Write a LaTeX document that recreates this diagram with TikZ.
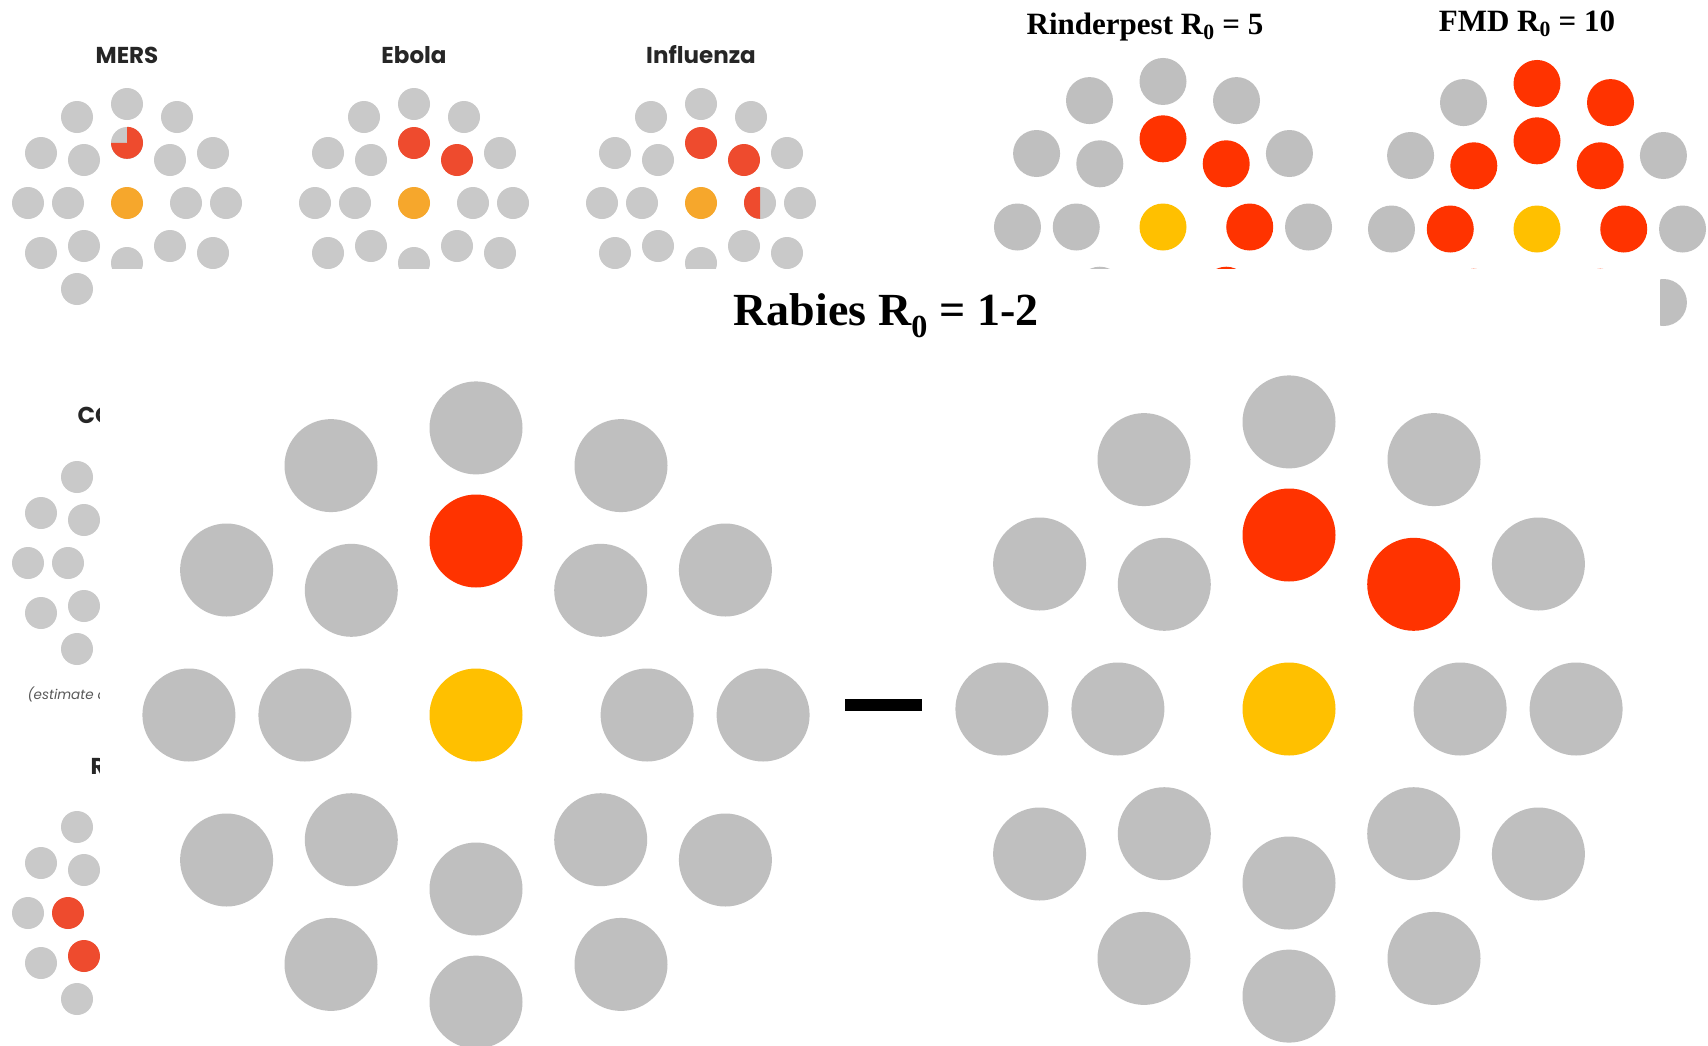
\documentclass[tikz,border=0pt]{standalone}
\usepackage{fontspec}
\usetikzlibrary{calc}
\newfontfamily\capfont{Poppins}
\newfontfamily\headfont{Liberation Serif}

\definecolor{sgray}{HTML}{C9C9C9}
\definecolor{sred}{HTML}{EE4B2E}
\definecolor{syellow}{HTML}{F6A72C}
\definecolor{bgray}{HTML}{BFBFBF}
\definecolor{bred}{HTML}{FF3300}
\definecolor{byellow}{HTML}{FFC000}

% dots round the index case, y up
\newcommand{\ringpos}{0/99, -50/86, 50/86, 0/60, -86/50, -43/43, 43/43, 86/50,
  -99/0, -59/0, 59/0, 99/0, -86/-50, -43/-43, 0/-60, 43/-43, 86/-50, -50/-86, 0/-99, 50/-86}

% #1 name, #2 centre, #3 scale, #4 dot size, #5 palette, #6 red dots
\newcommand{\ringpanel}[6]{%
  \foreach \dx/\dy [count=\i] in \ringpos {
    \xdef\dotcol{#5gray}
    \foreach \r in {#6} {\ifnum\r=\i\relax\xdef\dotcol{#5red}\fi}
    \node[dot, fill=\dotcol, minimum size=#4] (#1\i) at ($(#2)+(#3*\dx,#3*\dy)$) {};
  }
  \node[dot, fill=#5yellow, minimum size=#4] (#1c) at (#2) {};
}

\begin{document}
\begin{tikzpicture}[x=1pt, y=1pt,
		dot/.style={circle, inner sep=0pt},
		capt/.style={anchor=base, text=black!85, font=\capfont\bfseries\fontsize{23}{26}\selectfont},
		note/.style={anchor=base west, text=black!65, font=\capfont\itshape\fontsize{13.5}{15}\selectfont},
		headsmall/.style={anchor=base, font=\headfont\bfseries\fontsize{31}{34}\selectfont},
		headbig/.style={anchor=base, font=\headfont\bfseries\fontsize{46}{50}\selectfont}
		]
		\useasboundingbox (0,0) rectangle (1708,-1045);
		\fill[white] (0,0) rectangle (1708,-1045);
		
		% Draw small panels
		\ringpanel{mers}{127,-203}{1}{32pt}{s}{0}
		\ringpanel{ebola}{414,-203}{1}{32pt}{s}{4,7}
		\ringpanel{flu}{701,-203}{1}{32pt}{s}{4,7}
		\ringpanel{covid}{127,-563}{1}{32pt}{s}{0}
		\ringpanel{rab}{127,-913}{1}{32pt}{s}{10,14}
		\fill[sred] (mers4.center) -- (mers4.north) arc[start angle=90, end angle=-180, radius=16] -- cycle;
		\fill[sred] (flu11.center) -- (flu11.north) arc[start angle=90, end angle=270, radius=16] -- cycle;
		
		\node[capt] (mersT) at (127,-63) {MERS};
		\node[capt] (ebolaT) at (414,-63) {Ebola};
		\node[capt] (fluT) at (701,-63) {Influenza};
		\node[capt, anchor=base west] (covidT) at (74,-423) {CO};
		\node[capt, anchor=base west] (rabT) at (87,-774) {R};
		\node[note] (estT) at (24,-699) {(estimate a};
		
		% Draw Rinderpest and FMD
		\ringpanel{rp}{1163,-227}{1.47}{47pt}{b}{4,7,11,16}
		\ringpanel{fmd}{1537,-229}{1.47}{47pt}{b}{1,3,4,6,7,10,11,14,16}
		\node[headsmall] (rpT) at (1145,-34) {Rinderpest R\textsubscript{0} = 5};
		\node[headsmall] (fmdT) at (1527,-31) {FMD R\textsubscript{0} = 10};
		
		% Cover for the Rabies slide
		\fill[white] (100,-269) rectangle (1660,-1045);
		
		% Draw Rabies
		\node[headbig] (rabiesT) at (886,-325) {Rabies R\textsubscript{0} = 1-2};
		\ringpanel{left}{476,-715}{2.9}{93pt}{b}{4}
		\ringpanel{right}{1289,-709}{2.9}{93pt}{b}{4,7}
		\node[fill=black, inner sep=0pt, minimum width=77pt, minimum height=12pt] (dash) at (883,-705) {};
		
	\end{tikzpicture}
\end{document}
